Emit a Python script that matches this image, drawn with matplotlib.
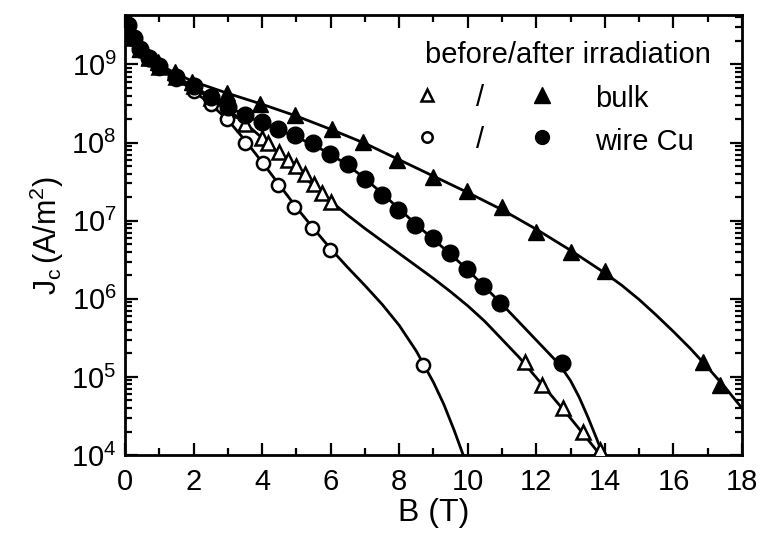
import matplotlib
matplotlib.use("Agg")
import matplotlib.pyplot as plt
import numpy as np

plt.rcParams["font.family"] = ["Liberation Sans", "DejaVu Sans"]
plt.rcParams["mathtext.fontset"] = "custom"
plt.rcParams["mathtext.rm"] = "Liberation Sans"
plt.rcParams["mathtext.it"] = "Liberation Sans"

# ---- data (B in tesla, log10 Jc in A/m^2) ----
bulk_after_B = [0.1, 0.25, 0.45, 0.7, 0.96, 1.46, 1.95, 2.98, 3.94, 4.96, 6.04,
                6.94, 7.93, 8.98, 9.98, 11.0, 12.0, 13.0, 14.0, 16.86, 17.36]
bulk_after_logJ = [9.5, 9.35, 9.2, 9.1, 9.03, 8.90, 8.78, 8.64, 8.50, 8.35, 8.17,
                   8.01, 7.78, 7.56, 7.38, 7.17, 6.86, 6.60, 6.35, 5.19, 4.90]

wire_after_B = [0.1, 0.25, 0.45, 0.7, 1.0, 1.5, 2.0, 2.5, 3.0, 3.5, 4.0, 4.46, 4.96,
                5.48, 5.98, 6.5, 7.0, 7.5, 7.96, 8.46, 8.98, 9.48, 9.98, 10.44,
                10.94, 12.75]
wire_after_logJ = [9.5, 9.34, 9.2, 9.08, 8.98, 8.84, 8.72, 8.58, 8.46, 8.35, 8.26,
                   8.17, 8.10, 8.0, 7.86, 7.72, 7.53, 7.33, 7.14, 6.95, 6.78, 6.59,
                   6.38, 6.17, 5.95, 5.18]

bulk_before_B = [0.1, 0.25, 0.45, 0.7, 1.0, 1.5, 2.0, 2.5, 3.0, 3.5, 4.0, 4.17, 4.5,
                 4.75, 5.0, 5.25, 5.5, 5.75, 6.0, 11.67, 12.16, 12.78, 13.36, 13.86]
bulk_before_logJ = [9.5, 9.34, 9.2, 9.08, 8.97, 8.84, 8.72, 8.57, 8.42, 8.24, 8.06,
                    8.0, 7.88, 7.78, 7.7, 7.6, 7.47, 7.36, 7.24, 5.19, 4.90, 4.60,
                    4.29, 4.06]

wire_before_B = [0.1, 0.25, 0.45, 0.7, 1.0, 1.5, 2.0, 2.5, 2.98, 3.5, 4.03, 4.46,
                 4.93, 5.46, 5.98, 8.69]
wire_before_logJ = [9.5, 9.32, 9.18, 9.07, 8.96, 8.82, 8.66, 8.5, 8.3, 8.0, 7.74,
                    7.46, 7.17, 6.9, 6.63, 5.15]

# fitted curves
fit_bulk_after_B = [0, 0.25, 0.5, 1, 1.5, 2, 3, 4, 5, 6, 7, 8, 9, 10, 11, 12, 13,
                    14, 14.5, 15, 15.5, 16, 16.5, 17, 17.5, 18]
fit_bulk_after_logJ = [9.58, 9.33, 9.18, 9.0, 8.88, 8.78, 8.63, 8.49, 8.34, 8.17,
                       7.99, 7.78, 7.57, 7.36, 7.14, 6.89, 6.62, 6.33, 6.17, 5.99,
                       5.79, 5.58, 5.36, 5.12, 4.87, 4.60]

fit_wire_after_B = [0, 0.25, 0.5, 1, 1.5, 2, 2.5, 3, 3.5, 4, 4.5, 5, 5.5, 6, 6.5,
                    7, 7.5, 8, 8.5, 9, 9.5, 10, 10.5, 11, 11.5, 12, 12.5, 12.75,
                    13, 13.25, 13.5, 13.75, 14.0]
fit_wire_after_logJ = [9.58, 9.33, 9.17, 8.98, 8.84, 8.72, 8.59, 8.46, 8.35, 8.25,
                       8.16, 8.07, 7.97, 7.85, 7.71, 7.54, 7.35, 7.15, 6.95, 6.76,
                       6.57, 6.37, 6.15, 5.93, 5.7, 5.47, 5.24, 5.11, 4.95, 4.74,
                       4.49, 4.22, 3.94]

fit_bulk_before_B = [0, 0.25, 0.5, 1, 1.5, 2, 2.5, 3, 3.5, 4, 4.5, 5, 5.5, 6, 6.5,
                     7, 7.5, 8, 8.5, 9, 9.5, 10, 10.5, 11, 11.5, 12, 12.5, 13,
                     13.5, 13.9, 14.0]
fit_bulk_before_logJ = [9.58, 9.33, 9.17, 8.98, 8.84, 8.71, 8.57, 8.42, 8.25, 8.06,
                        7.86, 7.65, 7.45, 7.25, 7.07, 6.9, 6.74, 6.58, 6.42, 6.26,
                        6.09, 5.91, 5.71, 5.48, 5.25, 4.99, 4.73, 4.47, 4.2, 3.98,
                        3.92]

fit_wire_before_B = [0, 0.25, 0.5, 1, 1.5, 2, 2.5, 3, 3.5, 4, 4.5, 5, 5.5, 6, 6.5,
                     7, 7.5, 8, 8.5, 9, 9.3, 9.6, 9.95]
fit_wire_before_logJ = [9.58, 9.32, 9.16, 8.96, 8.82, 8.66, 8.49, 8.29, 8.03, 7.75,
                        7.46, 7.17, 6.9, 6.64, 6.4, 6.17, 5.93, 5.66, 5.33, 4.93,
                        4.65, 4.32, 3.9]

x_ticks = [0, 2, 4, 6, 8, 10, 12, 14, 16, 18]
y_exps = [4, 5, 6, 7, 8, 9]


def J(v):
    return 10.0 ** np.asarray(v)


fig = plt.figure(figsize=(7.64, 5.39), dpi=100)
ax = fig.add_axes([0.1636, 0.1558, 0.8076, 0.8164])

lw = 2.0
for fb, fl in [(fit_bulk_after_B, fit_bulk_after_logJ),
               (fit_wire_after_B, fit_wire_after_logJ),
               (fit_bulk_before_B, fit_bulk_before_logJ),
               (fit_wire_before_B, fit_wire_before_logJ)]:
    ax.plot(fb, J(fl), color="black", lw=lw, zorder=2, solid_joinstyle="round")

ax.plot(bulk_before_B, J(bulk_before_logJ), ls="none", marker="^", ms=10,
        mfc="white", mec="black", mew=1.8, zorder=3)
ax.plot(wire_before_B, J(wire_before_logJ), ls="none", marker="o", ms=9.5,
        mfc="white", mec="black", mew=1.8, zorder=3)
ax.plot(bulk_after_B, J(bulk_after_logJ), ls="none", marker="^", ms=12,
        mfc="black", mec="black", zorder=4)
ax.plot(wire_after_B, J(wire_after_logJ), ls="none", marker="o", ms=12,
        mfc="black", mec="black", zorder=4)

ax.set_yscale("log")
ax.set_xlim(0, 18)
ax.set_ylim(1e4, 4.3e9)
ax.set_xticks(x_ticks)
ax.set_xticklabels([str(t) for t in x_ticks])
ax.set_xticks(np.arange(0, 19, 1), minor=True)
ax.set_yticks([10.0 ** e for e in y_exps])
ax.set_yticklabels([r"$\mathregular{10^{%d}}$" % e for e in y_exps])

ax.tick_params(which="both", direction="in", top=True, right=True,
               labelsize=21, width=1.6)
ax.tick_params(which="major", length=9)
ax.tick_params(which="minor", length=5)
ax.tick_params(axis="x", which="major", pad=9)
ax.tick_params(axis="y", which="major", pad=6)
for s in ax.spines.values():
    s.set_linewidth(2.0)

ax.set_xlabel("B (T)", fontsize=23, labelpad=2)
ax.set_ylabel(r"$\mathregular{J_c\,(A/m^2)}$", fontsize=22, labelpad=4)

# legend block, drawn by hand like the original
tr = ax.transAxes
ax.text(0.949, 0.909, "before/after irradiation", transform=tr, fontsize=21,
        ha="right", va="center")
ax.plot([0.489], [0.818], transform=tr, marker="^", ms=8, mfc="white",
        mec="black", mew=1.8, ls="none")
ax.plot([0.676], [0.818], transform=tr, marker="^", ms=12, mfc="black",
        mec="black", ls="none")
ax.plot([0.489], [0.722], transform=tr, marker="o", ms=7.5, mfc="white",
        mec="black", mew=1.8, ls="none")
ax.plot([0.676], [0.722], transform=tr, marker="o", ms=10, mfc="black",
        mec="black", ls="none")
for yy in (0.812, 0.716):
    ax.text(0.575, yy, "/", transform=tr, fontsize=21, ha="center", va="center")
ax.text(0.762, 0.808, "bulk", transform=tr, fontsize=21, ha="left", va="center")
ax.text(0.762, 0.712, "wire Cu", transform=tr, fontsize=21, ha="left",
        va="center")

fig.savefig("out.png", dpi=100)
